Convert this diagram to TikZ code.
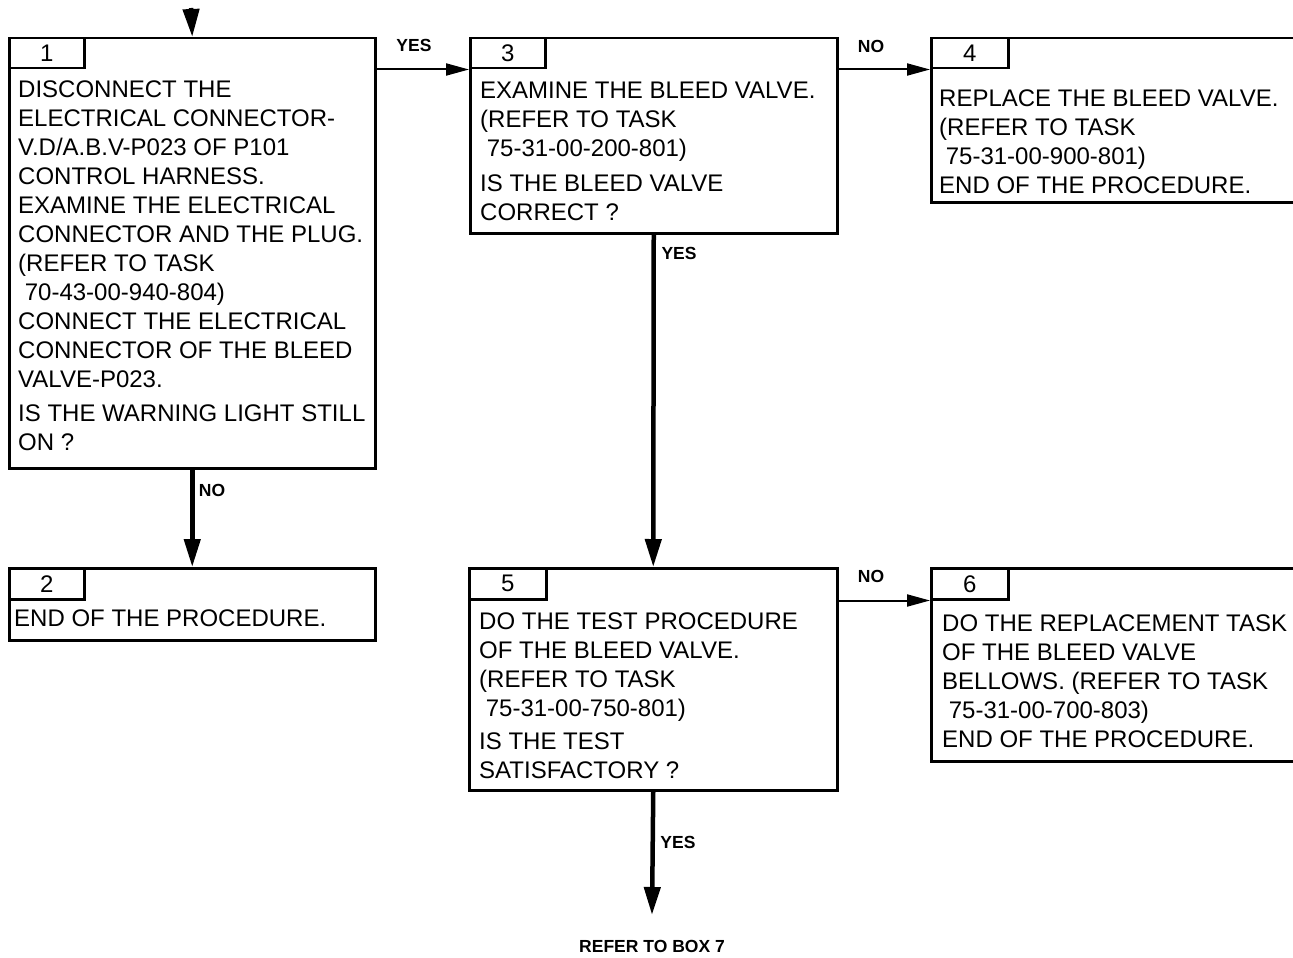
\documentclass[tikz,border=0pt]{standalone}
\usepackage{fontspec}
\setmainfont{Liberation Sans}
\usetikzlibrary{arrows.meta}
\begin{document}
\begin{tikzpicture}[x=1pt,y=-1pt,
  box/.style={draw, line width=2.5pt, inner sep=0pt, anchor=north west},
  tabbox/.style={draw, line width=2.5pt, inner sep=0pt, anchor=north west, minimum width=75pt, minimum height=30pt, font=\fontsize{24}{29}\selectfont},
  txt/.style={inner sep=0pt, anchor=north west, align=left, font=\fontsize{24}{29}\selectfont},
  lbl/.style={inner sep=0pt, font=\bfseries\fontsize{17.5}{20}\selectfont},
  harr/.style={line width=2pt, -{Triangle[length=23pt,width=12pt]}},
  varr/.style={line width=4.5pt, -{Triangle[length=28pt,width=16pt]}}]
\useasboundingbox (0,0) rectangle (1293,958);
\clip (0,0) rectangle (1293,958);
% boxes
\node[box, minimum width=366pt, minimum height=430pt] (b1) at (8,37) {};
\node[tabbox] (t1) at (8,37) {1};
\node[box, minimum width=367pt, minimum height=195pt] (b3) at (469,37) {};
\node[tabbox] (t3) at (469,37) {3};
\node[box, minimum width=372pt, minimum height=164pt] (b4) at (930,37) {};
\node[tabbox, minimum width=77pt] (t4) at (930,37) {4};
\node[box, minimum width=366pt, minimum height=72pt] (b2) at (8,567) {};
\node[tabbox, minimum width=75pt, minimum height=31pt] (t2) at (8,567) {2};
\node[box, minimum width=368pt, minimum height=222pt] (b5) at (468,567) {};
\node[tabbox, minimum width=77pt, minimum height=31pt] (t5) at (468,567) {5};
\node[box, minimum width=372pt, minimum height=193pt] (b6) at (930,567) {};
\node[tabbox, minimum width=77pt, minimum height=31pt] (t6) at (930,567) {6};
% texts
\node[txt] (x1a) at (18,81) {DISCONNECT THE\\ELECTRICAL CONNECTOR-\\V.D/A.B.V-P023 OF P101\\CONTROL HARNESS.\\EXAMINE THE ELECTRICAL\\CONNECTOR AND THE PLUG.\\(REFER TO TASK\\~70-43-00-940-804)\\CONNECT THE ELECTRICAL\\CONNECTOR OF THE BLEED\\VALVE-P023.};
\node[txt] (x1b) at (18,405) {IS THE WARNING LIGHT STILL\\ON ?};
\node[txt] (x3a) at (480,82) {EXAMINE THE BLEED VALVE.\\(REFER TO TASK\\~75-31-00-200-801)};
\node[txt] (x3b) at (480,175) {IS THE BLEED VALVE\\CORRECT ?};
\node[txt] (x4) at (939,90) {REPLACE THE BLEED VALVE.\\(REFER TO TASK\\~75-31-00-900-801)\\END OF THE PROCEDURE.};
\node[txt] (x2) at (14,610) {END OF THE PROCEDURE.};
\node[txt] (x5a) at (479,613) {DO THE TEST PROCEDURE\\OF THE BLEED VALVE.\\(REFER TO TASK\\~75-31-00-750-801)};
\node[txt] (x5b) at (479,733) {IS THE TEST\\SATISFACTORY ?};
\node[txt] (x6) at (942,615) {DO THE REPLACEMENT TASK\\OF THE BLEED VALVE\\BELLOWS. (REFER TO TASK\\~75-31-00-700-803)\\END OF THE PROCEDURE.};
% connectors
\coordinate (in) at (191,8);
\coordinate (out) at (652,915);
\draw[varr] (in) -- (b1.north);
\draw[harr] (b1.east |- t1.south) -- (b3.west |- t1.south);
\draw[harr] (b3.east |- t3.south) -- (b4.west |- t3.south);
\draw[varr] (b1.south) -- (b2.north);
\draw[varr] (b3.south) -- (b5.north);
\draw[harr] (b5.east |- t5.south) -- (b6.west |- t5.south);
\draw[varr] (b5.south) -- (out);
% labels
\node[lbl] (l1) at (414,45) {YES};
\node[lbl] (l2) at (871,46) {NO};
\node[lbl] (l3) at (212,490) {NO};
\node[lbl] (l4) at (679,253) {YES};
\node[lbl] (l5) at (871,576) {NO};
\node[lbl] (l6) at (678,842) {YES};
\node[lbl] (ref) at (652,946) {REFER TO BOX 7};
\end{tikzpicture}
\end{document}
